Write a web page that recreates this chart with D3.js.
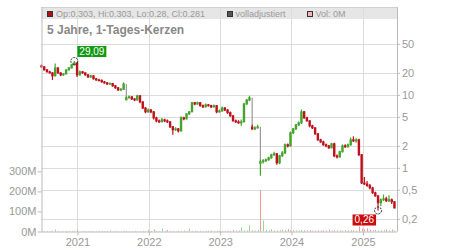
<!DOCTYPE html>
<html>
<head>
<meta charset='utf-8'>
<script src='https://d3js.org/d3.v7.min.js'></script>
<style>
body { margin: 0; background: #fff; }
text { font-family: 'Liberation Sans', Arial, sans-serif; }
</style>
</head>
<body>
<div id="my_dataviz"></div>
<script>
// candles: one every 14 days from the start date
var startDate = '2020-07-01';
var stepDays = 14;

var opens = [25.0,24.2,22.0,20.7,20.0,18.2,23.4,20.0,18.8,19.4,22.0,23.4,25.8,27.4,18.8,20.7,20.0,18.8,17.6,18.2,
16.6,16.0,15.8,15.1,14.6,14.1,14.3,13.3,12.5,11.7,11.9,8.6,9.1,9.4,8.8,8.5,9.7,8.0,6.6,5.85,
6.2,5.85,4.84,4.40,4.27,4.55,4.40,4.27,3.65,3.32,3.42,3.21,4.84,4.69,5.5,5.85,7.8,7.5,7.8,7.1,
6.85,7.3,7.1,6.85,7.1,5.85,6.0,6.6,6.2,5.7,5.15,4.40,4.27,4.13,4.27,7.5,8.5,3.6,3.42,3.53,
1.15,1.21,1.25,1.29,1.37,1.51,1.56,1.17,1.46,1.60,2.07,2.0,3.02,3.42,3.88,4.13,5.85,4.84,4.40,3.76,
3.53,2.92,2.42,2.27,2.07,2.0,1.88,2.13,1.46,1.41,1.66,2.0,1.94,2.07,2.42,2.34,2.42,1.51,0.62,0.60,
0.57,0.53,0.455,0.413,0.332,0.365,0.376,0.353,0.365,0.342];
var highs = [26.0,24.8,22.6,21.4,20.5,26.8,23.8,20.4,20.0,22.5,24.0,26.2,29.09,27.8,21.5,21.2,20.4,19.2,18.8,18.5,
17.0,16.6,16.2,15.5,15.0,14.8,14.5,13.6,12.8,12.4,14.8,9.6,9.8,9.6,9.0,10.0,9.9,8.2,6.8,6.5,
6.4,6.0,5.0,4.6,4.8,4.7,4.6,4.35,3.75,3.6,3.5,5.1,5.0,5.6,6.0,8.0,8.0,8.1,8.0,7.4,
7.6,7.5,7.3,7.4,7.2,6.3,6.9,6.8,6.4,5.9,5.3,4.6,4.5,4.6,7.8,8.8,9.7,3.9,3.7,3.9,
1.3,1.32,1.34,1.42,1.56,1.66,1.6,1.5,1.7,2.15,2.15,3.15,3.5,4.0,4.3,6.3,6.0,5.0,4.5,3.9,
3.6,3.0,2.5,2.35,2.15,2.05,2.2,2.2,1.52,1.72,2.1,2.1,2.15,2.6,2.7,2.55,2.5,1.55,0.75,0.66,
0.6,0.55,0.47,0.42,0.38,0.43,0.40,0.42,0.38,0.35];
var lows = [23.6,21.5,20.2,19.6,16.0,18.0,19.5,18.0,18.2,19.0,21.5,23.0,25.2,17.6,18.4,19.4,18.3,17.0,17.2,16.2,
15.6,15.3,14.7,14.2,13.7,13.8,12.9,12.1,11.3,11.2,11.7,8.4,8.9,8.5,8.2,8.4,7.7,6.4,5.6,5.7,
5.6,4.6,4.2,4.1,4.2,4.2,4.1,3.5,2.85,3.2,3.05,3.15,4.5,4.6,5.3,5.8,7.2,7.3,6.9,6.6,
6.7,6.9,6.6,6.7,5.6,5.7,5.9,6.0,5.5,5.0,4.3,4.1,4.0,3.76,4.2,7.3,8.2,3.3,3.3,3.45,
0.78,1.15,1.2,1.25,1.33,1.45,1.1,1.12,1.42,1.55,1.9,1.95,2.9,3.3,3.75,4.0,4.7,4.3,3.6,3.4,
2.85,2.35,2.2,2.0,1.92,1.82,1.85,1.4,1.34,1.38,1.62,1.88,1.9,2.0,2.25,2.2,1.45,0.6,0.58,0.55,
0.51,0.44,0.40,0.26,0.30,0.35,0.34,0.34,0.32,0.28];
var closes = [24.2,22.0,20.7,20.0,18.2,23.4,20.0,18.8,19.4,22.0,23.4,25.8,27.4,18.8,20.7,20.0,18.8,17.6,18.2,16.6,
16.0,15.8,15.1,14.6,14.1,14.3,13.3,12.5,11.7,11.9,14.1,9.1,9.4,8.8,8.5,9.7,8.0,6.6,5.85,6.2,
5.85,4.84,4.40,4.27,4.55,4.40,4.27,3.65,3.32,3.42,3.21,4.84,4.69,5.5,5.85,7.8,7.5,7.8,7.1,6.85,
7.3,7.1,6.85,7.1,5.85,6.0,6.6,6.2,5.7,5.15,4.40,4.27,4.13,4.27,7.5,8.5,9.1,3.42,3.53,3.65,
1.21,1.25,1.29,1.37,1.51,1.56,1.17,1.46,1.60,2.07,2.0,3.02,3.42,3.88,4.13,5.85,4.84,4.40,3.76,3.53,
2.92,2.42,2.27,2.07,2.0,1.88,2.13,1.46,1.41,1.66,2.0,1.94,2.07,2.42,2.34,2.42,1.51,0.62,0.60,0.57,
0.53,0.455,0.413,0.332,0.365,0.376,0.353,0.365,0.342,0.281];
// volume in millions
var volumes = [3,2,3,2,4,10,3,2,2,3,2,3,4,8,2,3,2,2,3,2,
2,3,2,2,3,6,2,3,2,2,4,3,2,2,3,2,2,3,2,8,
3,10,3,2,15,3,8,3,2,2,4,3,5,3,14,3,4,3,3,2,
3,4,5,3,3,4,3,3,4,3,8,4,5,20,6,5,30,6,5,8,
208,55,8,6,12,6,5,6,10,7,12,6,7,5,6,8,6,5,7,4,
5,6,5,6,5,10,5,6,5,6,5,6,5,7,6,5,25,14,10,15,
8,6,7,5,6,7,10,6,10,5];

var years = [2021, 2022, 2023, 2024, 2025];
var priceTicks = [50, 20, 10, 5, 2, 1, 0.5, 0.2];
var volTicks = [0, 100, 200, 300];
var legendText = 'Op:0.303, Hi:0.303, Lo:0.28, Cl:0.281';
var titleText = '5 Jahre, 1-Tages-Kerzen';

var width = 450, height = 250;
var plotLeft = 41.5, plotRight = 397, plotTop = 7, plotBottom = 231.5;
var upColor = '#43a52b', downColor = '#c0101b';
var gridColor = '#dcdcdc', textColor = '#999';

var data = closes.map(function(c, i) {
  return {
    date: d3.timeDay.offset(new Date(startDate + 'T00:00:00'), i * stepDays),
    o: opens[i], h: highs[i], l: lows[i], c: c, v: volumes[i],
    prev: i > 0 ? closes[i - 1] : opens[i]
  };
});

var svg = d3.select('#my_dataviz')
.append('svg')
.attr('width', width)
.attr('height', height);

var x = d3.scaleTime()
.domain([new Date(2020, 6, 1), new Date(2025, 5, 24)])
.range([plotLeft, plotRight]);
var y = d3.scaleLog()
.domain([0.134, 160])
.range([plotBottom, plotTop]);
var yVol = d3.scaleLinear()
.domain([0, 1120])
.range([plotBottom, plotTop]);

// legend bar
svg.append('rect')
.attr('x', plotLeft).attr('y', plotTop)
.attr('width', plotRight - plotLeft).attr('height', 12)
.style('fill', '#e6e6e6');

// grid
svg.selectAll('.hgrid')
.data(priceTicks)
.enter()
.append('line')
.attr('x1', plotLeft).attr('x2', plotRight)
.attr('y1', function(d) { return Math.round(y(d)) + 0.5; })
.attr('y2', function(d) { return Math.round(y(d)) + 0.5; })
.style('stroke', gridColor);

svg.selectAll('.vgrid')
.data(years)
.enter()
.append('line')
.attr('x1', function(d) { return Math.round(x(new Date(d, 0, 1))) + 0.5; })
.attr('x2', function(d) { return Math.round(x(new Date(d, 0, 1))) + 0.5; })
.attr('y1', plotTop).attr('y2', plotBottom)
.style('stroke', gridColor);

svg.append('line')
.attr('x1', plotLeft).attr('x2', plotRight)
.attr('y1', plotTop + 0.5).attr('y2', plotTop + 0.5)
.style('stroke', '#d0d0d0');

// legend
var leg = svg.append('g');
leg.append('rect').attr('x', 47.5).attr('y', 11.5).attr('width', 5).attr('height', 5)
.style('fill', '#b31212').style('stroke', '#333');
leg.append('text').attr('x', 56).attr('y', 17).text(legendText)
.style('font-size', '9px').style('fill', textColor);
leg.append('rect').attr('x', 227.5).attr('y', 11.5).attr('width', 5).attr('height', 5)
.style('fill', '#555').style('stroke', '#333');
leg.append('text').attr('x', 235.5).attr('y', 17).text('volladjustiert')
.style('font-size', '9px').style('fill', textColor);
leg.append('rect').attr('x', 307.5).attr('y', 11.5).attr('width', 5).attr('height', 5)
.style('fill', '#f2b8b8').style('stroke', '#333');
leg.append('text').attr('x', 315.5).attr('y', 17).text('Vol: 0M')
.style('font-size', '9px').style('fill', textColor);

svg.append('text')
.attr('x', 47).attr('y', 34)
.text(titleText)
.style('font-size', '12px').style('font-weight', 'bold').style('fill', '#888');

// volume bars
svg.selectAll('.vol')
.data(data)
.enter()
.append('rect')
.attr('x', function(d) { return Math.round(x(d.date)); })
.attr('width', 1)
.attr('y', function(d) { return yVol(d.v); })
.attr('height', function(d) { return plotBottom - yVol(d.v); })
.style('fill', function(d) { return d.c >= d.prev ? '#9ad890' : '#f09a9a'; });

// gap connectors
svg.selectAll('.gap')
.data(data.slice(1))
.enter()
.append('line')
.attr('x1', function(d) { return x(d.date); })
.attr('x2', function(d) { return x(d.date); })
.attr('y1', function(d) { return y(d.prev); })
.attr('y2', function(d) { return y(d.o); })
.style('stroke', '#999')
.style('stroke-width', 1.2);

// candles
var candle = svg.selectAll('.candle')
.data(data)
.enter()
.append('g');

candle.append('line')
.attr('x1', function(d) { return x(d.date); })
.attr('x2', function(d) { return x(d.date); })
.attr('y1', function(d) { return y(d.h); })
.attr('y2', function(d) { return y(d.l); })
.style('stroke', function(d) { return d.c >= d.o ? upColor : downColor; })
.style('stroke-width', 1.2);

candle.append('rect')
.attr('x', function(d) { return x(d.date) - 1.2; })
.attr('width', 2.4)
.attr('y', function(d) { return y(Math.max(d.o, d.c)) - 0.5; })
.attr('height', function(d) { return Math.max(1.5, Math.abs(y(d.o) - y(d.c)) + 1); })
.style('fill', function(d) { return d.c >= d.o ? upColor : downColor; });

// axes
var axisR = svg.append('g')
.attr('transform', 'translate(' + plotRight + ',0)')
.call(d3.axisRight(y).tickValues(priceTicks).tickSize(3).tickPadding(2)
.tickFormat(function(d) { return String(d).replace('.', ','); }));

var axisL = svg.append('g')
.attr('transform', 'translate(' + plotLeft + ',0)')
.call(d3.axisLeft(yVol).tickValues(volTicks).tickSize(4).tickPadding(1)
.tickFormat(function(d) { return d + 'M'; }));

var axisB = svg.append('g')
.attr('transform', 'translate(0,' + plotBottom + ')')
.call(d3.axisBottom(x).tickValues(years.map(function(d) { return new Date(d, 0, 1); }))
.tickSize(4).tickPadding(3).tickFormat(d3.timeFormat('%Y')));

[axisR, axisL, axisB].forEach(function(a) {
  a.select('.domain').style('stroke', '#bbb');
  a.selectAll('.tick line').style('stroke', '#bbb');
  a.selectAll('text').style('fill', textColor).style('font-size', '11px')
  .style('font-family', "'Liberation Sans', Arial, sans-serif");
});
axisR.select('.domain').attr('d', 'M0.5,' + plotTop + 'V' + plotBottom);
axisL.select('.domain').attr('d', 'M0.5,' + plotTop + 'V' + plotBottom);
axisB.select('.domain').attr('d', 'M' + plotLeft + ',0.5H' + plotRight);

// high / low markers
var hiIdx = d3.maxIndex(data, function(d) { return d.h; });
var loIdx = d3.minIndex(data, function(d) { return d.l; });

function marker(d, val, bg, above) {
  var cx = x(d.date), cy = y(val);
  svg.append('circle')
  .attr('cx', cx).attr('cy', cy).attr('r', 3.5)
  .style('fill', 'none').style('stroke', '#222')
  .style('stroke-dasharray', '2,1');
  var g = svg.append('g');
  var box = g.append('rect').style('fill', bg);
  var t = g.append('text')
  .text(String(val).replace('.', ','))
  .style('font-size', '10px').style('fill', '#fff');
  var w = t.node().getComputedTextLength() + 4;
  var bx = above ? cx + 3 : cx - 2 - w;
  var by = above ? cy - 15 : cy + 4;
  box.attr('x', bx).attr('y', by).attr('width', w).attr('height', 11);
  t.attr('x', bx + 2).attr('y', by + 9);
}
marker(data[hiIdx], data[hiIdx].h, '#109a10', true);
marker(data[loIdx], data[loIdx].l, '#cc0a0a', false);
</script>
</body>
</html>
